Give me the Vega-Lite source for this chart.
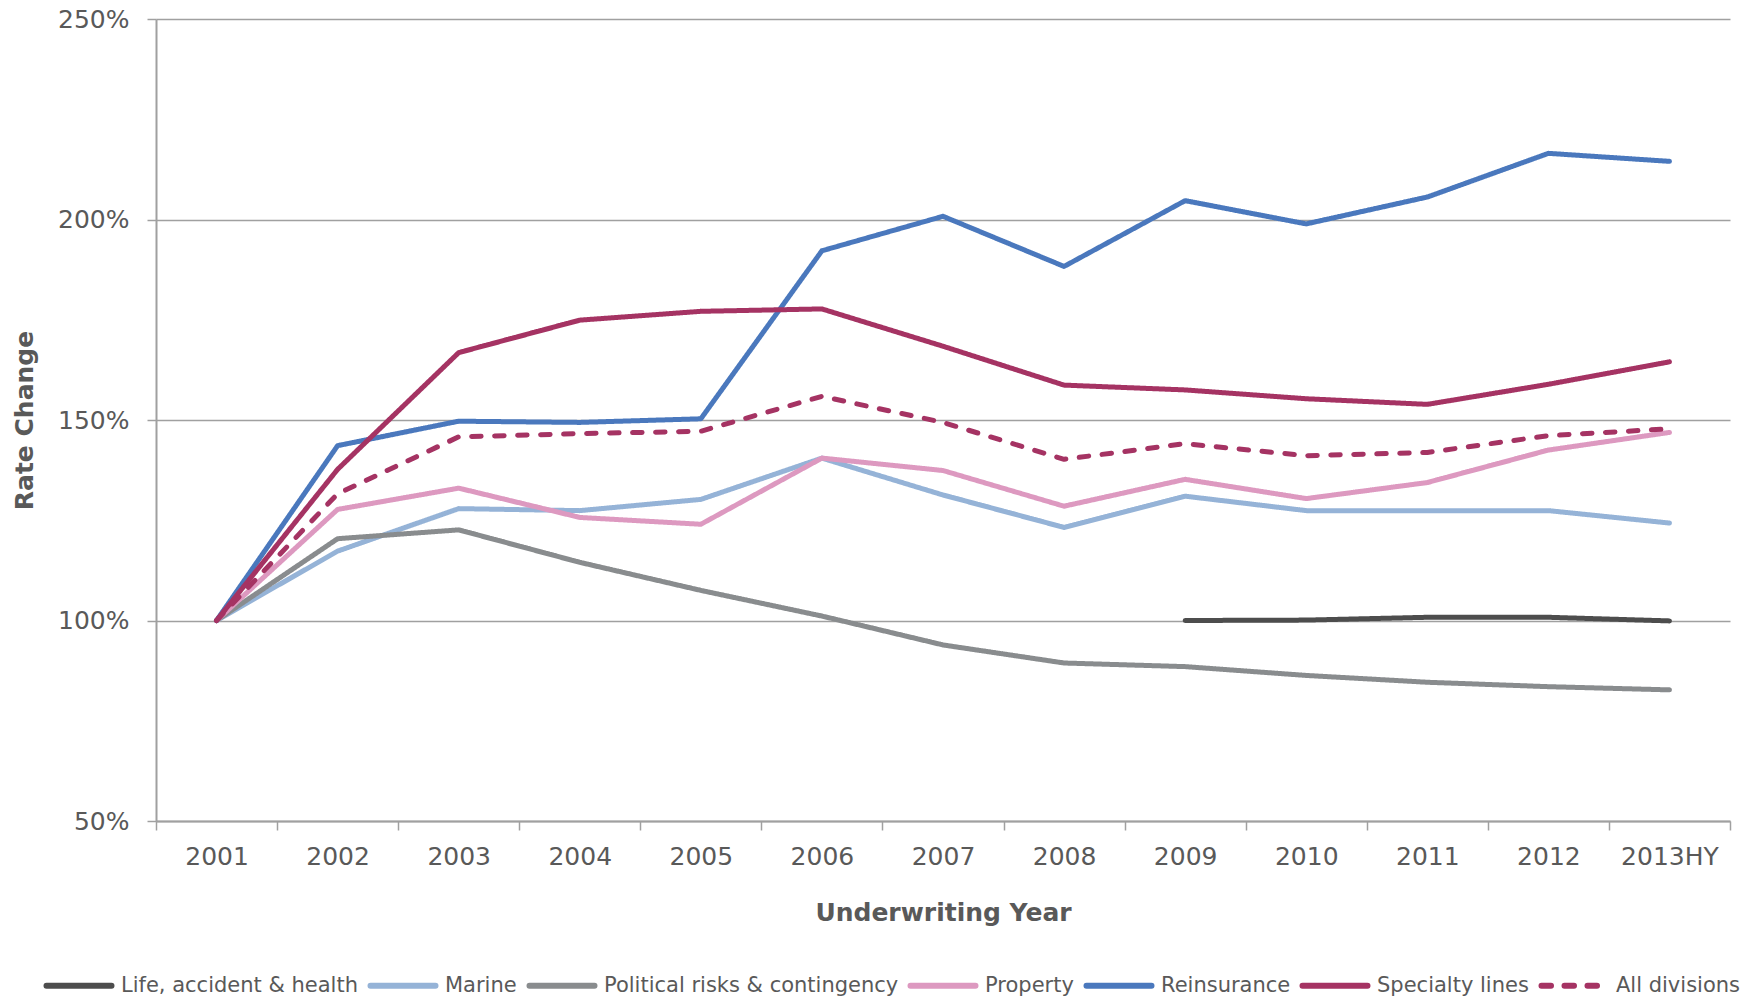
{
  "$schema": "https://vega.github.io/schema/vega-lite/v6.json",
  "width": 1574,
  "height": 802,
  "autosize": {"type": "none"},
  "padding": {"left": 156, "top": 19, "right": 26, "bottom": 178},
  "background": "white",
  "config": {
    "font": "DejaVu Sans",
    "view": {"stroke": null},
    "axis": {
      "labelFont": "DejaVu Sans",
      "labelColor": "#595959",
      "labelFontSize": 25,
      "titleFont": "DejaVu Sans",
      "titleColor": "#595959",
      "titleFontSize": 25,
      "titleFontWeight": "bold",
      "domainColor": "#a0a0a0",
      "domainWidth": 2,
      "tickColor": "#a0a0a0",
      "tickWidth": 1.5,
      "gridColor": "#a0a0a0",
      "gridWidth": 1.5
    }
  },
  "data": {
    "values": [
      {"series": "Life, accident & health", "year": "2009", "value": 100.0},
      {"series": "Life, accident & health", "year": "2010", "value": 100.1},
      {"series": "Life, accident & health", "year": "2011", "value": 100.8},
      {"series": "Life, accident & health", "year": "2012", "value": 100.8},
      {"series": "Life, accident & health", "year": "2013HY", "value": 99.9},

      {"series": "Marine", "year": "2001", "value": 100.0},
      {"series": "Marine", "year": "2002", "value": 117.3},
      {"series": "Marine", "year": "2003", "value": 127.9},
      {"series": "Marine", "year": "2004", "value": 127.4},
      {"series": "Marine", "year": "2005", "value": 130.2},
      {"series": "Marine", "year": "2006", "value": 140.5},
      {"series": "Marine", "year": "2007", "value": 131.3},
      {"series": "Marine", "year": "2008", "value": 123.2},
      {"series": "Marine", "year": "2009", "value": 131.0},
      {"series": "Marine", "year": "2010", "value": 127.4},
      {"series": "Marine", "year": "2011", "value": 127.4},
      {"series": "Marine", "year": "2012", "value": 127.4},
      {"series": "Marine", "year": "2013HY", "value": 124.3},

      {"series": "Political risks & contingency", "year": "2001", "value": 100.0},
      {"series": "Political risks & contingency", "year": "2002", "value": 120.4},
      {"series": "Political risks & contingency", "year": "2003", "value": 122.6},
      {"series": "Political risks & contingency", "year": "2004", "value": 114.5},
      {"series": "Political risks & contingency", "year": "2005", "value": 107.5},
      {"series": "Political risks & contingency", "year": "2006", "value": 101.1},
      {"series": "Political risks & contingency", "year": "2007", "value": 93.9},
      {"series": "Political risks & contingency", "year": "2008", "value": 89.4},
      {"series": "Political risks & contingency", "year": "2009", "value": 88.5},
      {"series": "Political risks & contingency", "year": "2010", "value": 86.3},
      {"series": "Political risks & contingency", "year": "2011", "value": 84.6},
      {"series": "Political risks & contingency", "year": "2012", "value": 83.5},
      {"series": "Political risks & contingency", "year": "2013HY", "value": 82.7},

      {"series": "Property", "year": "2001", "value": 100.0},
      {"series": "Property", "year": "2002", "value": 127.7},
      {"series": "Property", "year": "2003", "value": 133.0},
      {"series": "Property", "year": "2004", "value": 125.7},
      {"series": "Property", "year": "2005", "value": 124.0},
      {"series": "Property", "year": "2006", "value": 140.5},
      {"series": "Property", "year": "2007", "value": 137.4},
      {"series": "Property", "year": "2008", "value": 128.5},
      {"series": "Property", "year": "2009", "value": 135.2},
      {"series": "Property", "year": "2010", "value": 130.4},
      {"series": "Property", "year": "2011", "value": 134.4},
      {"series": "Property", "year": "2012", "value": 142.5},
      {"series": "Property", "year": "2013HY", "value": 146.9},

      {"series": "Reinsurance", "year": "2001", "value": 100.0},
      {"series": "Reinsurance", "year": "2002", "value": 143.6},
      {"series": "Reinsurance", "year": "2003", "value": 149.7},
      {"series": "Reinsurance", "year": "2004", "value": 149.4},
      {"series": "Reinsurance", "year": "2005", "value": 150.3},
      {"series": "Reinsurance", "year": "2006", "value": 192.2},
      {"series": "Reinsurance", "year": "2007", "value": 200.8},
      {"series": "Reinsurance", "year": "2008", "value": 188.3},
      {"series": "Reinsurance", "year": "2009", "value": 204.7},
      {"series": "Reinsurance", "year": "2010", "value": 198.9},
      {"series": "Reinsurance", "year": "2011", "value": 205.6},
      {"series": "Reinsurance", "year": "2012", "value": 216.5},
      {"series": "Reinsurance", "year": "2013HY", "value": 214.5},

      {"series": "Specialty lines", "year": "2001", "value": 100.0},
      {"series": "Specialty lines", "year": "2002", "value": 137.7},
      {"series": "Specialty lines", "year": "2003", "value": 166.8},
      {"series": "Specialty lines", "year": "2004", "value": 174.9},
      {"series": "Specialty lines", "year": "2005", "value": 177.1},
      {"series": "Specialty lines", "year": "2006", "value": 177.7},
      {"series": "Specialty lines", "year": "2007", "value": 168.4},
      {"series": "Specialty lines", "year": "2008", "value": 158.7},
      {"series": "Specialty lines", "year": "2009", "value": 157.5},
      {"series": "Specialty lines", "year": "2010", "value": 155.3},
      {"series": "Specialty lines", "year": "2011", "value": 153.9},
      {"series": "Specialty lines", "year": "2012", "value": 158.9},
      {"series": "Specialty lines", "year": "2013HY", "value": 164.5},

      {"series": "All divisions", "year": "2001", "value": 100.0},
      {"series": "All divisions", "year": "2002", "value": 131.6},
      {"series": "All divisions", "year": "2003", "value": 145.8},
      {"series": "All divisions", "year": "2004", "value": 146.6},
      {"series": "All divisions", "year": "2005", "value": 147.2},
      {"series": "All divisions", "year": "2006", "value": 155.9},
      {"series": "All divisions", "year": "2007", "value": 149.4},
      {"series": "All divisions", "year": "2008", "value": 140.2},
      {"series": "All divisions", "year": "2009", "value": 144.1},
      {"series": "All divisions", "year": "2010", "value": 141.1},
      {"series": "All divisions", "year": "2011", "value": 141.9},
      {"series": "All divisions", "year": "2012", "value": 146.1},
      {"series": "All divisions", "year": "2013HY", "value": 147.8}
    ]
  },
  "mark": {"type": "line", "strokeWidth": 5, "strokeCap": "round", "strokeJoin": "round"},
  "encoding": {
    "x": {
      "field": "year",
      "type": "ordinal",
      "bandPosition": 0.5,
      "sort": ["2001","2002","2003","2004","2005","2006","2007","2008","2009","2010","2011","2012","2013HY"],
      "scale": {"type": "band", "paddingInner": 0, "paddingOuter": 0, "domain": ["2001","2002","2003","2004","2005","2006","2007","2008","2009","2010","2011","2012","2013HY"]},
      "axis": {
        "title": "Underwriting Year",
        "labelAngle": 0,
        "tickBand": "extent",
        "tickSize": 9,
        "labelPadding": 14,
        "titlePadding": 31,
        "grid": false
      }
    },
    "y": {
      "field": "value",
      "type": "quantitative",
      "scale": {"domain": [50, 250], "nice": false, "zero": false},
      "axis": {
        "title": "Rate Change",
        "values": [50, 100, 150, 200, 250],
        "labelExpr": "datum.value + '%'",
        "tickSize": 9,
        "labelPadding": 18,
        "titlePadding": 20,
        "grid": true
      }
    },
    "color": {
      "field": "series",
      "type": "nominal",
      "scale": {
        "domain": ["Life, accident & health", "Marine", "Political risks & contingency", "Property", "Reinsurance", "Specialty lines", "All divisions"],
        "range": ["#4d4d4d", "#95b3d7", "#898c8e", "#dd99c0", "#4a78bd", "#a53363", "#a53363"]
      },
      "legend": {
        "title": null,
        "orient": "none",
        "direction": "horizontal",
        "legendX": -112.5,
        "legendY": 931,
        "labelFont": "DejaVu Sans",
        "labelFontSize": 21,
        "labelColor": "#595959",
        "symbolType": "stroke",
        "symbolSize": 4225,
        "symbolStrokeWidth": 6,
        "labelOffset": 6.5,
        "columnPadding": 0,
        "labelLimit": 400,
        "encode": {"symbols": {"update": {"strokeCap": {"value": "round"}}}}
      }
    },
    "strokeDash": {
      "field": "series",
      "type": "nominal",
      "scale": {
        "domain": ["Life, accident & health", "Marine", "Political risks & contingency", "Property", "Reinsurance", "Specialty lines", "All divisions"],
        "range": [[1, 0], [1, 0], [1, 0], [1, 0], [1, 0], [1, 0], [9.5, 13.5]]
      },
      "legend": {
        "title": null,
        "orient": "none",
        "direction": "horizontal",
        "legendX": -112.5,
        "legendY": 931,
        "labelFont": "DejaVu Sans",
        "labelFontSize": 21,
        "labelColor": "#595959",
        "symbolType": "stroke",
        "symbolSize": 4225,
        "symbolStrokeWidth": 6,
        "labelOffset": 6.5,
        "columnPadding": 0,
        "labelLimit": 400,
        "encode": {"symbols": {"update": {"strokeCap": {"value": "round"}}}}
      }
    }
  }
}
